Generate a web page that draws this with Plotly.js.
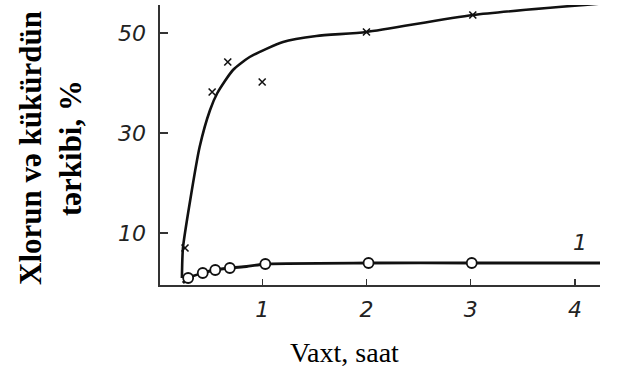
<!DOCTYPE html>
<html>
<head>
<meta charset="utf-8">
<script src="https://cdn.plot.ly/plotly-3.0.1.min.js"></script>
<style>html,body{margin:0;padding:0;background:#fff;}#chart{width:622px;height:370px;}</style>
</head>
<body>
<div id="chart"></div>
<script>
// Curve (upper): line path and "x" measurement marks
const upperLineX = [0.23, 0.24, 0.31, 0.40, 0.50, 0.57, 0.72, 0.88, 1.20, 1.52, 2.00, 3.02, 4.43];
const upperLineY = [1.0, 7.0, 16.6, 27.2, 34.6, 38.0, 42.6, 45.2, 48.2, 49.4, 50.2, 53.6, 56.2];
const upperMarkX = [0.26, 0.52, 0.67, 1.00, 2.00, 3.02];
const upperMarkY = [7.0, 38.2, 44.2, 40.2, 50.2, 53.6];
// Curve 1 (lower): line path and circle measurements
const lowerLineX = [0.24, 0.29, 0.43, 0.55, 0.69, 0.85, 1.03, 2.02, 3.01, 4.24];
const lowerLineY = [0.0, 1.0, 2.0, 2.6, 3.0, 3.3, 3.8, 4.0, 4.0, 4.0];
const lowerMarkX = [0.29, 0.43, 0.55, 0.69, 1.03, 2.02, 3.01];
const lowerMarkY = [1.0, 2.0, 2.6, 3.0, 3.8, 4.0, 4.0];
// Ticks and labels
const xTicks = [1, 2, 3, 4];
const yTicks = [10, 30, 50];
const curveLabel = '1';
const curveLabelPos = [4.05, 8.2];
const xTitle = 'Vaxt, saat';
const yTitle = 'Xlorun və kükürdün<br>tərkibi, %';

const ink = '#111';
const traces = [
  {x: upperLineX, y: upperLineY, mode: 'lines', line: {color: ink, width: 2.6, shape: 'spline', smoothing: 0.6}, cliponaxis: false, hoverinfo: 'skip'},
  {x: upperMarkX, y: upperMarkY, mode: 'markers', marker: {symbol: 'x-thin', size: 7, line: {color: ink, width: 1.6}}, cliponaxis: false},
  {x: lowerLineX, y: lowerLineY, mode: 'lines', line: {color: ink, width: 2.8, shape: 'spline', smoothing: 0.6}, cliponaxis: false},
  {x: lowerMarkX, y: lowerMarkY, mode: 'markers', marker: {symbol: 'circle', size: 10, color: '#fff', line: {color: ink, width: 1.8}}, cliponaxis: false}
];

const tickFont = {family: 'DejaVu Sans', size: 22, color: '#222', style: 'italic'};
const layout = {
  width: 622, height: 370,
  margin: {l: 160, r: 22, t: 5, b: 85},
  paper_bgcolor: '#fff', plot_bgcolor: '#fff',
  showlegend: false,
  xaxis: {
    range: [0.02, 4.24], tickvals: xTicks, ticktext: xTicks.map(String),
    showgrid: false, zeroline: false, showline: true, linecolor: '#333', linewidth: 1.6,
    ticks: 'inside', ticklen: 6, tickcolor: '#333', tickwidth: 1.2,
    tickfont: tickFont, ticklabelstandoff: 4
  },
  yaxis: {
    range: [-0.4, 55.6], tickvals: yTicks, ticktext: yTicks.map(String),
    showgrid: false, zeroline: false, showline: true, linecolor: '#333', linewidth: 1.6,
    ticks: 'inside', ticklen: 8, tickcolor: '#333', tickwidth: 1.2,
    tickfont: tickFont, ticklabelstandoff: 8
  },
  annotations: [
    {text: yTitle, xref: 'paper', yref: 'paper', x: 0, y: 0.5, xanchor: 'center', yanchor: 'middle',
     xshift: -110, yshift: -3, textangle: -90, showarrow: false, align: 'center',
     font: {family: 'Liberation Serif', size: 31, color: '#000', weight: 'bold'}},
    {text: xTitle, xref: 'paper', yref: 'paper', x: 0, y: 0, xanchor: 'center', yanchor: 'middle',
     xshift: 184, yshift: -67, showarrow: false,
     font: {family: 'Liberation Serif', size: 28, color: '#000'}},
    {text: curveLabel, xref: 'x', yref: 'y', x: curveLabelPos[0], y: curveLabelPos[1], showarrow: false,
     font: {family: 'DejaVu Sans', size: 22, color: '#222', style: 'italic'}}
  ]
};

Plotly.newPlot('chart', traces, layout, {displayModeBar: false, staticPlot: true});
</script>
</body>
</html>
